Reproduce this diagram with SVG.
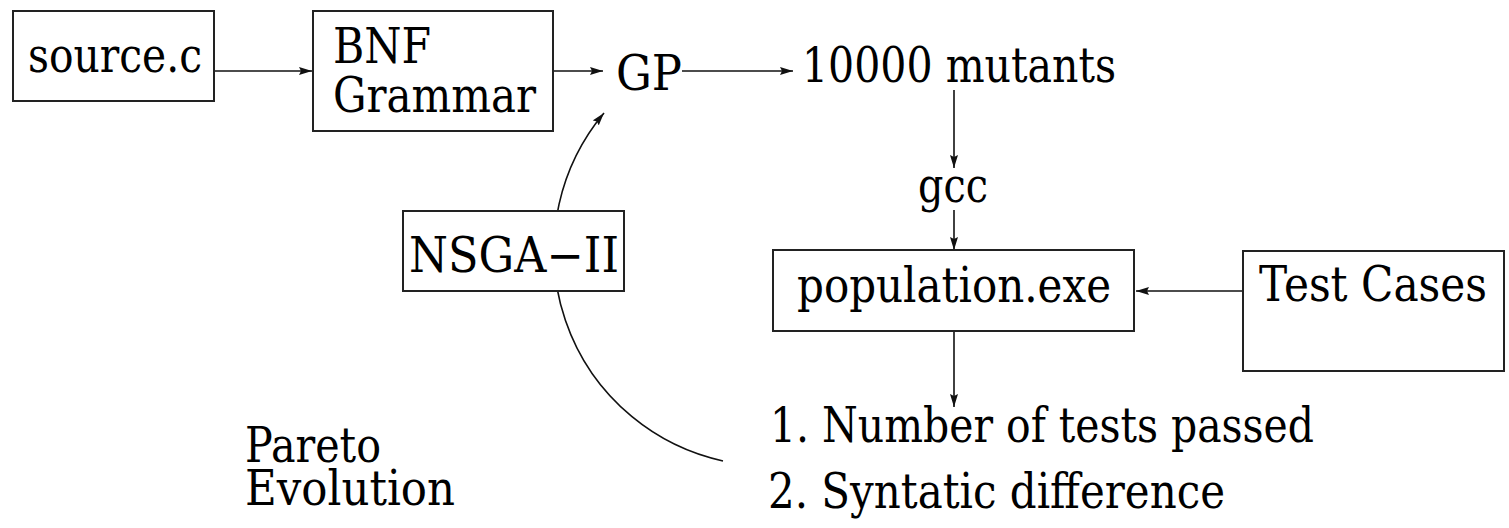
<svg xmlns="http://www.w3.org/2000/svg" width="1509" height="528" viewBox="0 0 1509 528">
<style>
.box{fill:#fff;stroke:#222;stroke-width:2}
.lbl{font-family:"DejaVu Serif","Liberation Serif",serif;font-size:48px;fill:#000}
.ln{fill:none;stroke:#111;stroke-width:1.6}
</style>
<defs>
<marker id="ah" markerUnits="userSpaceOnUse" markerWidth="14" markerHeight="10" refX="13" refY="4" orient="auto">
<path d="M0,0 L13,4 L0,8 L2,4 z" fill="#111"/>
</marker>
</defs>
<rect width="1509" height="528" fill="#fff"/>
<g id="connectors">
<line class="ln" x1="214" y1="71" x2="312" y2="71" marker-end="url(#ah)"/>
<line class="ln" x1="553" y1="71" x2="603" y2="71" marker-end="url(#ah)"/>
<line class="ln" x1="682" y1="71" x2="793" y2="71" marker-end="url(#ah)"/>
<line class="ln" x1="954" y1="90" x2="954" y2="168" marker-end="url(#ah)"/>
<line class="ln" x1="954" y1="210" x2="954" y2="250" marker-end="url(#ah)"/>
<line class="ln" x1="1243" y1="291" x2="1136" y2="291" marker-end="url(#ah)"/>
<line class="ln" x1="954" y1="331" x2="954" y2="407" marker-end="url(#ah)"/>
<path class="ln" d="M723,461 A215,215 0 0 1 604,113" marker-end="url(#ah)"/>
</g>
<g id="source">
<rect class="box" x="13" y="11" width="201" height="90"/>
<text class="lbl" x="28" y="72" textLength="174" lengthAdjust="spacingAndGlyphs">source.c</text>
</g>
<g id="bnf">
<rect class="box" x="313" y="11" width="240" height="120"/>
<text class="lbl" x="333" y="63" textLength="98" lengthAdjust="spacingAndGlyphs">BNF</text>
<text class="lbl" x="333" y="112" textLength="203" lengthAdjust="spacingAndGlyphs">Grammar</text>
</g>
<g id="gp">
<text class="lbl" x="616" y="90" textLength="66" lengthAdjust="spacingAndGlyphs">GP</text>
</g>
<g id="mutants">
<text class="lbl" x="802" y="82" textLength="314" lengthAdjust="spacingAndGlyphs">10000 mutants</text>
</g>
<g id="gcc">
<text class="lbl" x="918" y="202" textLength="70" lengthAdjust="spacingAndGlyphs">gcc</text>
</g>
<g id="population">
<rect class="box" x="773" y="250" width="361" height="81"/>
<text class="lbl" x="797" y="302" textLength="314" lengthAdjust="spacingAndGlyphs">population.exe</text>
</g>
<g id="testcases">
<rect class="box" x="1243" y="251" width="261" height="120"/>
<text class="lbl" x="1259" y="301" textLength="228" lengthAdjust="spacingAndGlyphs">Test Cases</text>
</g>
<g id="nsga">
<rect class="box" x="403" y="211" width="221" height="80"/>
<text class="lbl" x="409" y="272" textLength="210" lengthAdjust="spacingAndGlyphs">NSGA−II</text>
</g>
<g id="objectives">
<text class="lbl" x="770" y="442" textLength="544" lengthAdjust="spacingAndGlyphs">1. Number of tests passed</text>
<text class="lbl" x="768" y="508" textLength="457" lengthAdjust="spacingAndGlyphs">2. Syntatic difference</text>
</g>
<g id="pareto">
<text class="lbl" x="245" y="462" textLength="136" lengthAdjust="spacingAndGlyphs">Pareto</text>
<text class="lbl" x="245" y="505" textLength="210" lengthAdjust="spacingAndGlyphs">Evolution</text>
</g>
</svg>
